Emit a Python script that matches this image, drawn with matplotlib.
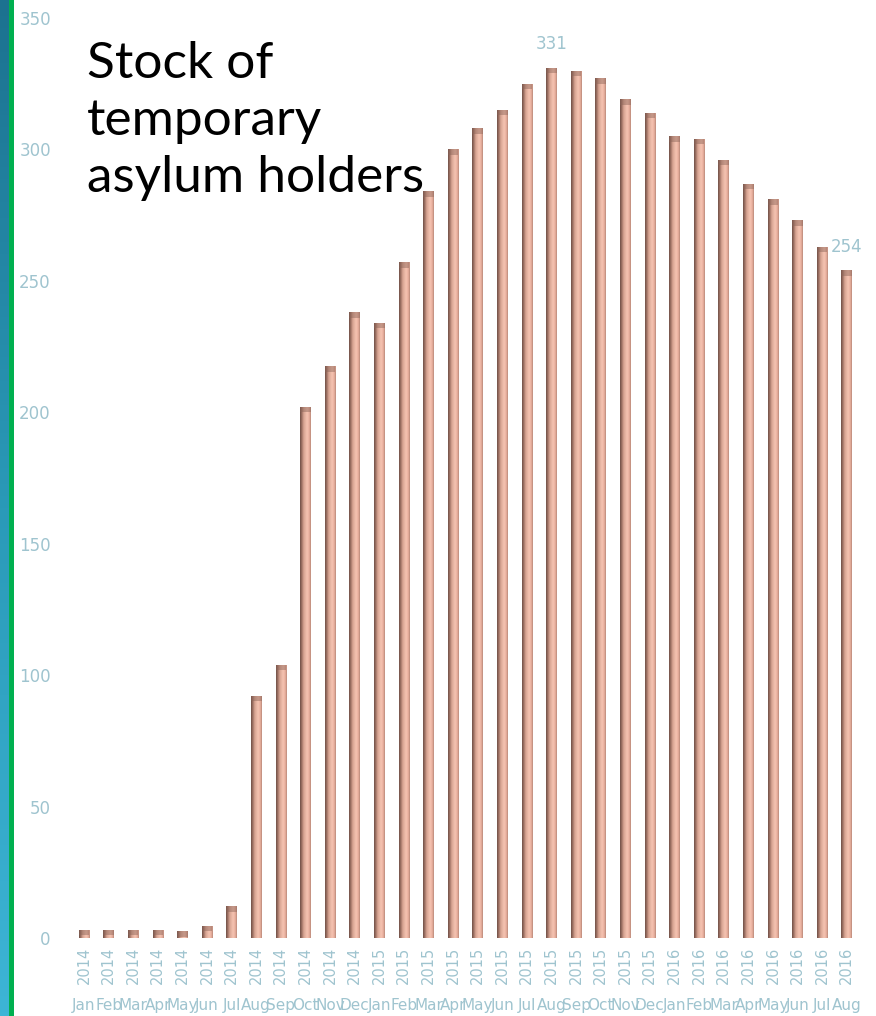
import numpy as np
import matplotlib
matplotlib.use("Agg")
import matplotlib.pyplot as plt
from matplotlib.patches import Rectangle
from matplotlib.colors import LinearSegmentedColormap

# Monthly stock of temporary asylum holders (thousands), Jan 2014 - Aug 2016
months = ["Jan", "Feb", "Mar", "Apr", "May", "Jun", "Jul", "Aug", "Sep", "Oct", "Nov", "Dec",
          "Jan", "Feb", "Mar", "Apr", "May", "Jun", "Jul", "Aug", "Sep", "Oct", "Nov", "Dec",
          "Jan", "Feb", "Mar", "Apr", "May", "Jun", "Jul", "Aug"]
years = ["2014"] * 12 + ["2015"] * 12 + ["2016"] * 8
values = [3, 3, 3, 3, 2.5, 4.5, 12, 92, 104, 202, 217.5, 238,
          234, 257, 284, 300, 308, 315, 325, 331, 330, 327, 319, 314,
          305, 304, 296, 287, 281, 273, 263, 254]
labelled = {19: "331", 31: "254"}
yticks = [0, 50, 100, 150, 200, 250, 300, 350]

W, H = 876, 1016
fig = plt.figure(figsize=(W / 100, H / 100), dpi=100)
fig.patch.set_facecolor("white")

label_col = "#9fc4cf"

# Decorative strip on the left edge
strip = fig.add_axes([0, 0, 9 / W, 1])
grad = np.linspace(0, 1, 256).reshape(-1, 1)
strip_cmap = LinearSegmentedColormap.from_list("strip", ["#1c7290", "#2a9ab8", "#3db5d6"])
strip.imshow(grad, aspect="auto", cmap=strip_cmap, extent=[0, 1, 0, 1], origin="upper")
strip.set_axis_off()
fig.patches.append(Rectangle((9 / W, 0), 5 / W, 1, transform=fig.transFigure,
                             facecolor="#00b050", edgecolor="none", zorder=5))

left = 71.7 / W
right = 859 / W
bottom = (H - 938) / H
top = (H - 18) / H
ax = fig.add_axes([left, bottom, right - left, top - bottom])
ax.set_facecolor("none")

x = np.arange(len(values))
bars = ax.bar(x, values, width=0.43, color="#d9a08e", edgecolor="none", zorder=2)

# Horizontal shading across each bar for a rounded, bevelled look
bar_cmap = LinearSegmentedColormap.from_list(
    "bar", [(0.0, "#6f5047"), (0.15, "#9c6f62"), (0.35, "#d8a593"),
            (0.65, "#f5c3b2"), (0.85, "#e9b09e"), (1.0, "#b9887a")])
hgrad = np.linspace(0, 1, 64).reshape(1, -1)
for b in bars:
    x0, y0 = b.get_x(), b.get_y()
    w, h = b.get_width(), b.get_height()
    im = ax.imshow(hgrad, aspect="auto", cmap=bar_cmap,
                   extent=[x0, x0 + w, y0, y0 + h], zorder=3, interpolation="bilinear")
    im.set_clip_path(b)
    cap = min(h, 2.0)
    ax.add_patch(Rectangle((x0, y0 + h - cap), w, cap, facecolor="#8a6458",
                           edgecolor="none", alpha=0.45, zorder=4))

ax.set_xlim(-0.5, len(values) - 0.5)
ax.set_ylim(0, 350)

for s in ax.spines.values():
    s.set_visible(False)

ax.set_yticks(yticks)
ax.set_yticklabels([str(v) for v in yticks])
ax.tick_params(axis="y", length=0, pad=15, labelsize=12, labelcolor=label_col)

ax.set_xticks(x)
ax.set_xticklabels(years, rotation=90)
ax.tick_params(axis="x", length=0, pad=6, labelsize=10.5, labelcolor=label_col)

for i, m in enumerate(months):
    ax.text(i, -0.073, m, transform=ax.get_xaxis_transform(), ha="center", va="center",
            fontsize=11, color=label_col)

for i, txt in labelled.items():
    ax.annotate(txt, (i, values[i]), xytext=(0, 17), textcoords="offset points",
                ha="center", va="center", fontsize=12, color=label_col)

fig.text(87 / W, 1 - 41 / H, "Stock of\ntemporary\nasylum holders", ha="left", va="top",
         fontsize=37, color="black", linespacing=1.3, family="Lato", weight="normal")

fig.savefig("out.png", dpi=100, facecolor="white")
